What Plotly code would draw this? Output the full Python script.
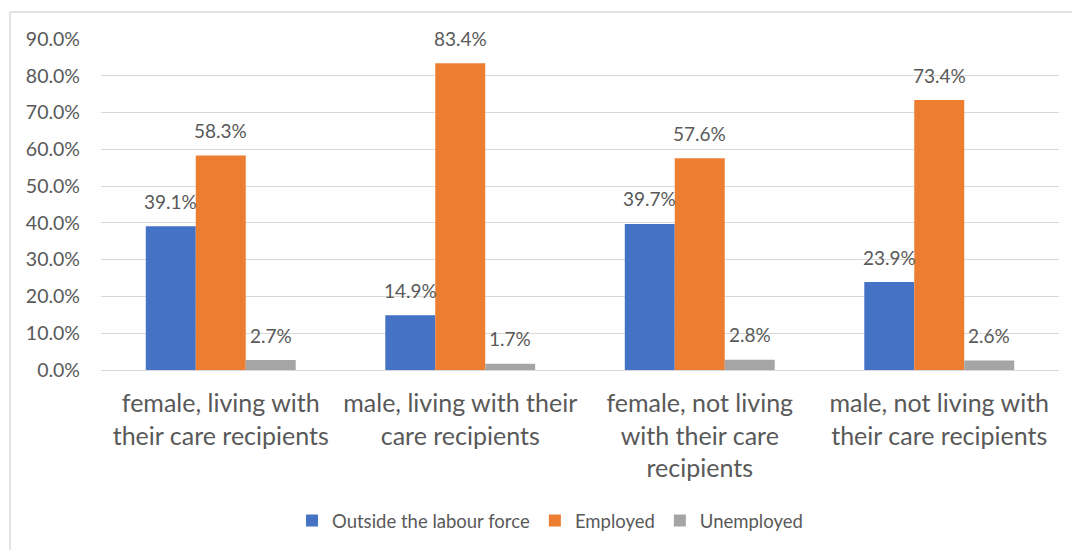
import plotly.graph_objects as go

# Care-giver labour force status by sex and co-residence
categories = [
    "female, living with<br>their care recipients",
    "male, living with their<br>care recipients",
    "female, not living<br>with their care<br>recipients",
    "male, not living with<br>their care recipients",
]
series_names = ["Outside the labour force", "Employed", "Unemployed"]
outside = [39.1, 14.9, 39.7, 23.9]
employed = [58.3, 83.4, 57.6, 73.4]
unemployed = [2.7, 1.7, 2.8, 2.6]
y_ticks = [0, 10, 20, 30, 40, 50, 60, 70, 80, 90]

colors = ["#4472C4", "#ED7D31", "#A5A5A5"]
text_color = "#595959"
font_family = "Lato, 'Open Sans', sans-serif"

# Figure geometry (pixels)
W, H = 1072, 550
ML, MR, MT, MB = 101, 13, 39, 179
plot_w = W - ML - MR
plot_h = H - MT - MB
bar_gap = 0.374
bar_px = plot_w / len(categories) * (1 - bar_gap) / len(series_names)

fig = go.Figure()
all_series = [outside, employed, unemployed]
for name, vals, col in zip(series_names, all_series, colors):
    fig.add_trace(go.Bar(
        x=categories, y=vals, name=name,
        marker=dict(color=col, line=dict(width=0)),
    ))

# Value labels above each bar
annotations = []
for i, vals in enumerate(all_series):
    shift = (i - (len(all_series) - 1) / 2) * bar_px
    for cat, v in zip(categories, vals):
        annotations.append(dict(
            x=cat, y=v, text=f"{v:.1f}%", showarrow=False,
            xshift=shift, yshift=25, yanchor="middle",
            font=dict(size=19, color=text_color, family=font_family),
        ))

def px_to_paper_x(px):
    return (px - ML) / plot_w

def px_to_paper_y(py):
    return (H - MB - py) / plot_h

# Chart-area frame (top and left edges)
shapes = [
    dict(type="line", xref="paper", yref="paper",
         x0=px_to_paper_x(10), x1=px_to_paper_x(W + 5),
         y0=px_to_paper_y(12), y1=px_to_paper_y(12),
         line=dict(color="#D9D9D9", width=1.5)),
    dict(type="line", xref="paper", yref="paper",
         x0=px_to_paper_x(10), x1=px_to_paper_x(10),
         y0=px_to_paper_y(12), y1=px_to_paper_y(H + 5),
         line=dict(color="#D9D9D9", width=1.5)),
]

fig.update_layout(
    width=W, height=H,
    margin=dict(l=ML, r=MR, t=MT, b=MB),
    paper_bgcolor="white", plot_bgcolor="white",
    barmode="group", bargap=bar_gap, bargroupgap=0,
    font=dict(family=font_family, color=text_color),
    showlegend=True,
    legend=dict(
        orientation="h", x=px_to_paper_x(550), xanchor="center",
        y=px_to_paper_y(521), yanchor="middle",
        font=dict(size=18.5, color=text_color, family=font_family),
        itemclick=False, itemdoubleclick=False,
    ),
    annotations=annotations,
    shapes=shapes,
    xaxis=dict(
        showgrid=False, showline=False, ticks="",
        tickfont=dict(size=25, color=text_color, family=font_family),
        ticklabelstandoff=16,
    ),
    yaxis=dict(
        range=[0, 90], tickvals=y_ticks,
        ticktext=[f"{t:.1f}%" for t in y_ticks],
        showgrid=True, gridcolor="#D9D9D9", gridwidth=1,
        zeroline=True, zerolinecolor="#D9D9D9", zerolinewidth=1,
        showline=False, ticks="",
        tickfont=dict(size=19.5, color=text_color, family=font_family),
        ticklabelstandoff=20,
    ),
)

fig.write_html("out.html")
